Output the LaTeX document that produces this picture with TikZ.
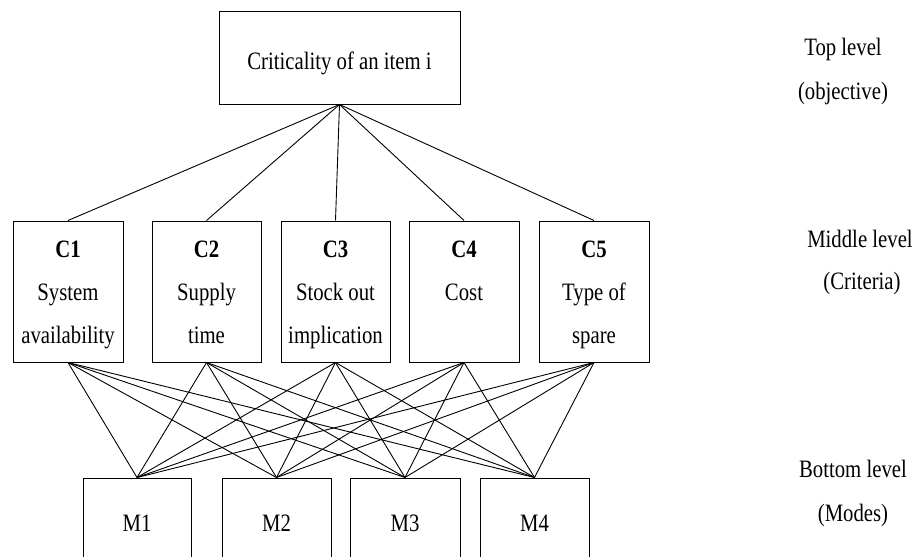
\documentclass[tikz,border=0pt]{standalone}
\usepackage{fontspec}
\usepackage{graphicx}
\setmainfont{Liberation Serif}
\newcommand{\narrowtxt}[1]{\scalebox{0.83}[1]{#1}}
\begin{document}
\begin{tikzpicture}[x=1pt,y=-1pt,
  box/.style={draw=black,line width=1pt,inner sep=0pt,minimum width=#1},
  box/.default=110pt,
  lbl/.style={anchor=base,inner sep=0pt,font=\fontsize{25}{30}\selectfont},
  link/.style={line width=0.9pt}]
\useasboundingbox (0,0) rectangle (914,557);

% objective
\node[box=241pt,minimum height=93pt] (top) at (339.5,57.5) {};
\node[lbl] (toptxt) at (339.5,69) {\narrowtxt{Criticality of an item i}};

% criteria
\node[box=110pt,minimum height=141pt] (c1) at (68,291.5) {};
\node[box=109pt,minimum height=141pt] (c2) at (206.5,291.5) {};
\node[box=109pt,minimum height=141pt] (c3) at (335.5,291.5) {};
\node[box=110pt,minimum height=141pt] (c4) at (464,291.5) {};
\node[box=110pt,minimum height=141pt] (c5) at (594,291.5) {};

\node[lbl] (c1a) at (68,257) {\narrowtxt{\bfseries C1}};
\node[lbl] (c1b) at (68,300) {\narrowtxt{System}};
\node[lbl] (c1c) at (68,343) {\narrowtxt{availability}};
\node[lbl] (c2a) at (206.5,257) {\narrowtxt{\bfseries C2}};
\node[lbl] (c2b) at (206.5,300) {\narrowtxt{Supply}};
\node[lbl] (c2c) at (206.5,343) {\narrowtxt{time}};
\node[lbl] (c3a) at (335.5,257) {\narrowtxt{\bfseries C3}};
\node[lbl] (c3b) at (335.5,300) {\narrowtxt{Stock out}};
\node[lbl] (c3c) at (335.5,343) {\narrowtxt{implication}};
\node[lbl] (c4a) at (464,257) {\narrowtxt{\bfseries C4}};
\node[lbl] (c4b) at (464,300) {\narrowtxt{Cost}};
\node[lbl] (c5a) at (594,257) {\narrowtxt{\bfseries C5}};
\node[lbl] (c5b) at (594,300) {\narrowtxt{Type of}};
\node[lbl] (c5c) at (594,343) {\narrowtxt{spare}};

% modes (boxes run past the lower edge)
\node[box=108pt,minimum height=102pt] (m1) at (137,529) {};
\node[box=109pt,minimum height=102pt] (m2) at (276.5,529) {};
\node[box=110pt,minimum height=102pt] (m3) at (405,529) {};
\node[box=109pt,minimum height=102pt] (m4) at (534.5,529) {};
\node[lbl] (m1t) at (137,531) {\narrowtxt{M1}};
\node[lbl] (m2t) at (276.5,531) {\narrowtxt{M2}};
\node[lbl] (m3t) at (405,531) {\narrowtxt{M3}};
\node[lbl] (m4t) at (534.5,531) {\narrowtxt{M4}};

% level captions
\node[lbl] (l1a) at (843,55) {\narrowtxt{Top level}};
\node[lbl] (l1b) at (843,99) {\narrowtxt{(objective)}};
\node[lbl] (l2a) at (860,247) {\narrowtxt{Middle level}};
\node[lbl] (l2b) at (862,289) {\narrowtxt{(Criteria)}};
\node[lbl] (l3a) at (853,477) {\narrowtxt{Bottom level}};
\node[lbl] (l3b) at (853,521) {\narrowtxt{(Modes)}};

% links
\foreach \c in {c1,c2,c3,c4,c5}{
  \draw[link] (top.south) -- (\c.north);
  \foreach \m in {m1,m2,m3,m4}{
    \draw[link] (\c.south) -- (\m.north);
  }
}
\end{tikzpicture}
\end{document}
